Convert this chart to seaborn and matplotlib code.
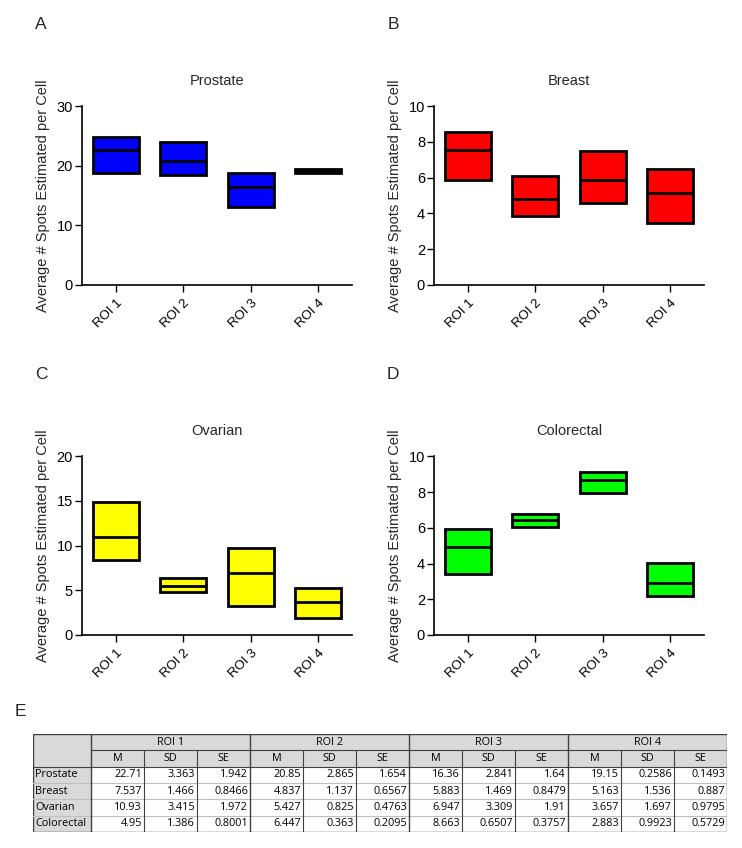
import numpy as np
import pandas as pd
import seaborn as sns
import matplotlib
matplotlib.use("Agg")
import matplotlib.pyplot as plt
from matplotlib.patches import Rectangle

# data
rois = ["ROI 1", "ROI 2", "ROI 3", "ROI 4"]
cancers = ["Prostate", "Breast", "Ovarian", "Colorectal"]

# box range (min / max), line = mean (M)
prostate_lo = [18.8, 18.5, 13.1, 18.8]
prostate_hi = [24.8, 24.0, 18.8, 19.4]
breast_lo = [5.86, 3.86, 4.57, 3.47]
breast_hi = [8.58, 6.08, 7.48, 6.51]
ovarian_lo = [8.36, 4.79, 3.27, 1.90]
ovarian_hi = [14.83, 6.35, 9.70, 5.27]
colorectal_lo = [3.39, 6.04, 7.92, 2.19]
colorectal_hi = [5.95, 6.77, 9.13, 4.02]

# table values
prostate_m = [22.71, 20.85, 16.36, 19.15]
prostate_sd = ["3.363", "2.865", "2.841", "0.2586"]
prostate_se = ["1.942", "1.654", "1.64", "0.1493"]
breast_m = [7.537, 4.837, 5.883, 5.163]
breast_sd = ["1.466", "1.137", "1.469", "1.536"]
breast_se = ["0.8466", "0.6567", "0.8479", "0.887"]
ovarian_m = [10.93, 5.427, 6.947, 3.657]
ovarian_sd = ["3.415", "0.825", "3.309", "1.697"]
ovarian_se = ["1.972", "0.4763", "1.91", "0.9795"]
colorectal_m = [4.95, 6.447, 8.663, 2.883]
colorectal_sd = ["1.386", "0.363", "0.6507", "0.9923"]
colorectal_se = ["0.8001", "0.2095", "0.3757", "0.5729"]

sns.set_style("ticks")
plt.rcParams["font.family"] = ["Liberation Sans", "DejaVu Sans"]

W, H = 742, 848
fig = plt.figure(figsize=(W / 100, H / 100), dpi=100)

panels = [
    ("A", "Prostate", prostate_lo, prostate_hi, prostate_m, "#0000ff", 30, 10, (0.1105, 0.664)),
    ("B", "Breast", breast_lo, breast_hi, breast_m, "#ff0000", 10, 2, (0.585, 0.664)),
    ("C", "Ovarian", ovarian_lo, ovarian_hi, ovarian_m, "#ffff00", 20, 5, (0.1105, 0.2512)),
    ("D", "Colorectal", colorectal_lo, colorectal_hi, colorectal_m, "#00ff00", 10, 2, (0.585, 0.2512)),
]

bw = 0.68
ah = 0.2107
for letter, title, lo, hi, m, col, ymax, step, (x0, y0) in panels:
    ax = fig.add_axes([x0, y0, 0.364, ah])
    df = pd.DataFrame({"roi": rois, "lo": lo, "hi": hi, "m": m})
    df["h"] = df["hi"] - df["lo"]
    sns.barplot(data=df, x="roi", y="h", bottom=df["lo"].to_numpy(), color=col,
                saturation=1, edgecolor="black", linewidth=2.0, width=bw,
                errorbar=None, ax=ax)
    pos = np.arange(len(rois))
    ax.hlines(df["m"], pos - bw / 2, pos + bw / 2, color="black", linewidth=2.0)
    ax.set_xlim(-0.5, 3.5)
    ax.set_ylim(0, ymax)
    ax.set_yticks(np.arange(0, ymax + 0.01, step))
    ax.set_xlabel("")
    ax.set_ylabel("Average # Spots Estimated per Cell", fontsize=10.5, labelpad=5)
    ax.set_title(title, fontsize=10.5, pad=15)
    ax.tick_params(axis="both", direction="out", length=5, width=1, labelsize=10.5,
                   colors="black", pad=1.5)
    ax.tick_params(axis="x", labelsize=9.5, pad=4)
    plt.setp(ax.get_xticklabels(), rotation=45, ha="right", rotation_mode="anchor")
    sns.despine(ax=ax)
    for s in ["left", "bottom"]:
        ax.spines[s].set_linewidth(1.2)
        ax.spines[s].set_color("black")
    fig.text(x0 - 0.055, y0 + ah + 82 / H, letter, fontsize=12.5, ha="center", va="center")

fig.text(20 / W, 1 - 712 / H, "E", fontsize=12.5, ha="center", va="center")

# table
tax = fig.add_axes([33 / W, 1 - 832 / H, 694 / W, 98 / H])
first_w = 58
cell_w = 53
total_w = first_w + 12 * cell_w
tax.set_xlim(0, total_w)
tax.set_ylim(6, 0)
tax.axis("off")
grey = "#d9d9d9"
tfont = dict(family=["Open Sans", "DejaVu Sans"], fontsize=7.8, color="black")

rows = [
    (prostate_m, prostate_sd, prostate_se),
    (breast_m, breast_sd, breast_se),
    (ovarian_m, ovarian_sd, ovarian_se),
    (colorectal_m, colorectal_sd, colorectal_se),
]

# header background
tax.add_patch(Rectangle((0, 0), total_w, 2, facecolor=grey, edgecolor="none"))
tax.add_patch(Rectangle((0, 2), first_w, 4, facecolor=grey, edgecolor="none"))

# light row separators
for r in range(3, 6):
    tax.plot([0, total_w], [r, r], color="#bfbfbf", linewidth=0.8)
tax.plot([first_w, total_w], [1, 1], color="#404040", linewidth=0.8)
tax.plot([0, total_w], [2, 2], color="#404040", linewidth=0.8)

for g, roi in enumerate(rois):
    gx = first_w + g * 3 * cell_w
    tax.text(gx + 1.5 * cell_w, 0.5, roi, ha="center", va="center", **tfont)
    for k, lab in enumerate(["M", "SD", "SE"]):
        cx = gx + k * cell_w
        tax.text(cx + cell_w / 2, 1.5, lab, ha="center", va="center", **tfont)
        if k > 0:
            tax.plot([cx, cx], [1, 6], color="#404040", linewidth=0.8)
    tax.plot([gx, gx], [0, 6], color="#404040", linewidth=1.0)

for r, (name, (mv, sdv, sev)) in enumerate(zip(cancers, rows)):
    y = 2.5 + r
    tax.text(2, y, name, ha="left", va="center", **tfont)
    for g in range(len(rois)):
        gx = first_w + g * 3 * cell_w
        vals = [f"{mv[g]:g}", sdv[g], sev[g]]
        for k, v in enumerate(vals):
            tax.text(gx + (k + 1) * cell_w - 2, y, v, ha="right", va="center", **tfont)

tax.add_patch(Rectangle((0, 0), total_w, 6, facecolor="none", edgecolor="#404040", linewidth=1.0))

fig.savefig("out.png", dpi=100)
